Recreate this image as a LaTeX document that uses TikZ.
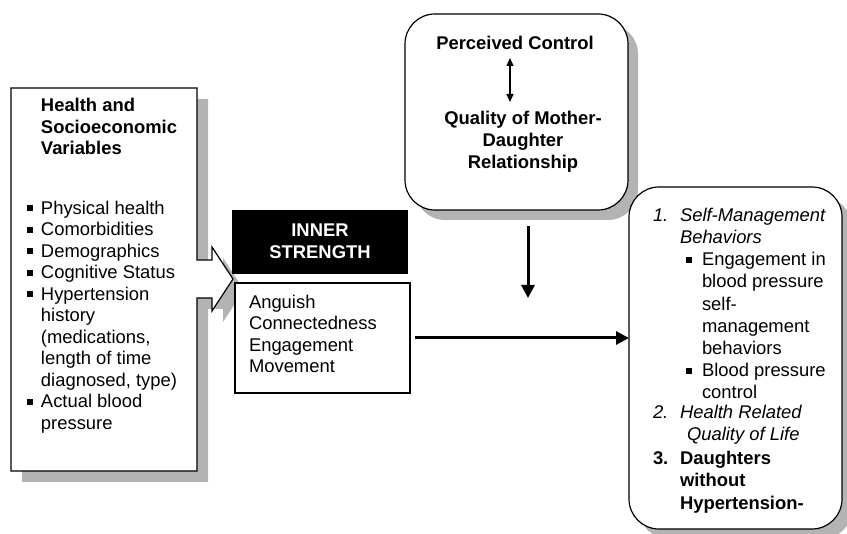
\documentclass[tikz,border=0pt]{standalone}
\usepackage{fontspec}
\setmainfont{Liberation Sans}
\usetikzlibrary{arrows.meta,shadows}
\definecolor{shadowgray}{HTML}{B3B3B3}
\tikzset{
  txt/.style={anchor=base west, inner sep=0pt, outer sep=0pt, font=\fontsize{18.4}{21.5}\selectfont},
  btxt/.style={txt, font=\fontsize{18.4}{21.5}\selectfont\bfseries},
  itxt/.style={txt, font=\fontsize{18.4}{21.5}\selectfont\itshape},
  ctxt/.style={anchor=base, inner sep=0pt, outer sep=0pt, font=\fontsize{18.4}{21.5}\selectfont\bfseries},
  sq/.style={fill=black, inner sep=0pt, outer sep=0pt, minimum size=6pt},
  rbox/.style={draw=black, line width=1.2pt, fill=white, rounded corners=30pt, inner sep=0pt, outer sep=0pt,
    drop shadow={shadow xshift=10pt, shadow yshift=-10pt, fill=shadowgray, opacity=1}},
  plainbox/.style={draw=black, line width=1.2pt, fill=white, inner sep=0pt, outer sep=0pt},
  bigarrow/.style={line width=3pt, -{Triangle[length=13pt,width=13pt]}},
  smallarrow/.style={line width=1.2pt, {Triangle[length=8pt,width=7pt]}-{Triangle[length=8pt,width=7pt]}},
}
\begin{document}
\begin{tikzpicture}[x=1pt,y=-1pt]
\useasboundingbox (0,0) rectangle (847,534);

% ---------- left box (rectangle with arrow notch) ----------
\begin{scope}[shift={(11,11)}]
\fill[shadowgray] (11,88) -- (197,88) -- (197,260) -- (212,260) -- (212,247) -- (233,279)
  -- (212,311) -- (212,298) -- (197,298) -- (197,471) -- (11,471) -- cycle;
\end{scope}
\draw[line width=1.2pt, fill=white] (11,88) -- (197,88) -- (197,260) -- (212,260) -- (212,247) -- (233,279)
  -- (212,311) -- (212,298) -- (197,298) -- (197,471) -- (11,471) -- cycle;

\node[btxt] (t1) at (41,112) {Health and};
\node[btxt] (t2) at (41,133.5) {Socioeconomic};
\node[btxt] (t3) at (41,155) {Variables};

\node[txt] (l1) at (41,214.5) {Physical health};
\node[txt] (l2) at (41,236) {Comorbidities};
\node[txt] (l3) at (41,257.5) {Demographics};
\node[txt] (l4) at (41,279) {Cognitive Status};
\node[txt] (l5) at (41,300.5) {Hypertension};
\node[txt] (l6) at (41,322) {history};
\node[txt] (l7) at (41,343.5) {(medications,};
\node[txt] (l8) at (41,365) {length of time};
\node[txt] (l9) at (41,386.5) {diagnosed, type)};
\node[txt] (l10) at (41,408) {Actual blood};
\node[txt] (l11) at (41,429.5) {pressure};
\node[sq] (b1) at (30,208.5) {};
\node[sq] (b2) at (30,230) {};
\node[sq] (b3) at (30,251.5) {};
\node[sq] (b4) at (30,273) {};
\node[sq] (b5) at (30,294.5) {};
\node[sq] (b10) at (30,402) {};

% ---------- inner strength ----------
\node[fill=black, inner sep=0pt, outer sep=0pt, minimum width=176pt, minimum height=64pt] (inner) at (320,242) {};
\node[ctxt, text=white] (in1) at (320,236.5) {INNER};
\node[ctxt, text=white] (in2) at (320,258.5) {STRENGTH};

\node[plainbox, minimum width=175pt, minimum height=110pt] (ang) at (322.5,338) {};
\node[txt] (a1) at (249,308.5) {Anguish};
\node[txt] (a2) at (249,329.8) {Connectedness};
\node[txt] (a3) at (249,351.1) {Engagement};
\node[txt] (a4) at (249,372.4) {Movement};

% ---------- top box ----------
\node[rbox, minimum width=223pt, minimum height=196pt] (ctrl) at (516.5,112) {};
\node[ctxt] (p1) at (515,49.5) {Perceived Control};
\node[ctxt] (p2) at (523,124.5) {Quality of Mother-};
\node[ctxt] (p3) at (523,146.5) {Daughter};
\node[ctxt] (p4) at (523,168.5) {Relationship};
\coordinate (da1) at (510,58);
\coordinate (da2) at (510,102);
\draw[smallarrow] (da1) -- (da2);

% ---------- right box ----------
\node[rbox, minimum width=213pt, minimum height=342pt] (out) at (735.5,358) {};
\node[itxt] (r0n) at (653,221.5) {1.};
\node[itxt] (r0) at (680,221.5) {Self-Management};
\node[itxt] (r1) at (680,243.65) {Behaviors};
\node[txt] (r2) at (702,265.8) {Engagement in};
\node[txt] (r3) at (702,287.95) {blood pressure};
\node[txt] (r4) at (702,310.1) {self-};
\node[txt] (r5) at (702,332.25) {management};
\node[txt] (r6) at (702,354.4) {behaviors};
\node[txt] (r7) at (702,376.55) {Blood pressure};
\node[txt] (r8) at (702,398.7) {control};
\node[sq] (rb1) at (689,259.8) {};
\node[sq] (rb2) at (689,370.55) {};
\node[itxt] (r9n) at (653,418.5) {2.};
\node[itxt] (r9) at (680,418.5) {Health Related};
\node[itxt] (r10) at (687,441) {Quality of Life};
\node[btxt] (r11n) at (653,464.5) {3.};
\node[btxt] (r11) at (680,464.5) {Daughters};
\node[btxt] (r12) at (680,487) {without};
\node[btxt] (r13) at (680,509.5) {Hypertension-};

% ---------- connectors ----------
\coordinate (dstart) at (528,226);
\coordinate (dend) at (528,298);
\draw[bigarrow] (dstart) -- (dend);
\coordinate (hstart) at (415,338);
\draw[bigarrow] (hstart) -- (hstart -| out.west);
\end{tikzpicture}
\end{document}
